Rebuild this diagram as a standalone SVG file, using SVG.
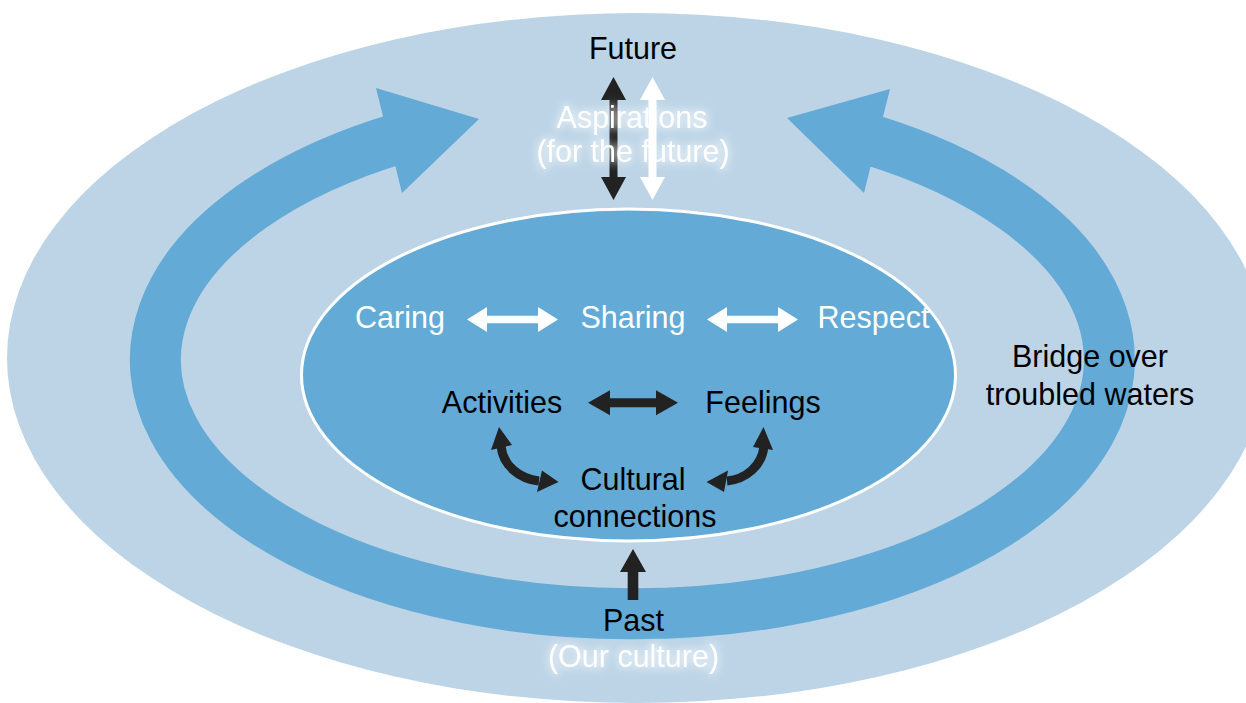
<svg xmlns="http://www.w3.org/2000/svg" width="1246" height="703" viewBox="0 0 1246 703">
<style>
.t{font-family:"Liberation Sans",Arial,sans-serif;font-size:30.5px;text-anchor:middle}
.k{fill:#000}
.w{fill:#fff}
.da{fill:#222}
.wa{fill:#fff}
.bh{fill:#63aad6}
</style>
<defs>
<filter id="glow" x="-20%" y="-50%" width="140%" height="200%">
<feMorphology in="SourceAlpha" operator="dilate" radius="2" result="d"/>
<feGaussianBlur in="d" stdDeviation="4" result="b"/>
<feFlood flood-color="#ffffff" flood-opacity="0.45"/>
<feComposite in2="b" operator="in" result="g"/>
<feMerge><feMergeNode in="g"/><feMergeNode in="SourceGraphic"/></feMerge>
</filter>
</defs>
<rect width="1246" height="703" fill="#fff"/>
<ellipse cx="637" cy="358" rx="630" ry="345" fill="#bcd4e6"/>
<g id="bridge-band">
<path d="M 400,138 A 477 254 0 1 0 868,139" fill="none" stroke="#63aad6" stroke-width="51"/>
<polygon class="bh" points="376,88 479,119 402,193"/>
<polygon class="bh" points="787,118 890,89 864,193"/>
</g>
<ellipse cx="628.5" cy="375" rx="327" ry="166" fill="#63aad6" stroke="#fff" stroke-width="3"/>
<g id="connectors">
<polygon class="da" points="613.5,77 626,100 617.5,100 617.5,177 626,177 613.5,200 601,177 609.5,177 609.5,100 601,100"/>
<polygon class="wa" points="652.5,77 665,100 656.5,100 656.5,177 665,177 652.5,200 640,177 648.5,177 648.5,100 640,100"/>
<polygon class="wa" points="467,319.5 487,307 487,315.7 538,315.7 538,307 558,319.5 538,332 538,323.3 487,323.3 487,332"/>
<polygon class="wa" points="707,319.5 727,307 727,315.7 778,315.7 778,307 798,319.5 778,332 778,323.3 727,323.3 727,332"/>
<polygon class="da" points="588,402.7 610,390.2 610,398.2 656,398.2 656,390.2 678,402.7 656,415.2 656,407.2 610,407.2 610,415.2"/>
<path d="M 501,446 C 503,466 520,479 539,481" fill="none" stroke="#222" stroke-width="9"/>
<polygon class="da" points="499,427 512,445 491,450"/>
<polygon class="da" points="558.5,482 537,492 542,470.5"/>
<path d="M 764,446 C 762,466 746,479 727,481" fill="none" stroke="#222" stroke-width="9"/>
<polygon class="da" points="763.5,427 773,450 753,447"/>
<polygon class="da" points="706.5,482 728,470.5 724,492"/>
<polygon class="da" points="633,549 646,572 638.3,572 638.3,600 627.7,600 627.7,572 620,572"/>
</g>
<g id="future"><text class="t k" x="633" y="59">Future</text></g>
<g id="aspirations" filter="url(#glow)"><text class="t w" x="632" y="128">Aspirations</text><text class="t w" x="633" y="162">(for the future)</text></g>
<g id="caring"><text class="t w" x="400" y="328">Caring</text></g>
<g id="sharing"><text class="t w" x="633" y="328">Sharing</text></g>
<g id="respect"><text class="t w" x="873.5" y="328">Respect</text></g>
<g id="activities"><text class="t k" x="502" y="413">Activities</text></g>
<g id="feelings"><text class="t k" x="763" y="413">Feelings</text></g>
<g id="cultural"><text class="t k" x="633" y="490">Cultural</text><text class="t k" x="635" y="527">connections</text></g>
<g id="past"><text class="t k" x="633.5" y="631">Past</text></g>
<g id="our-culture" filter="url(#glow)"><text class="t w" x="633.5" y="667">(Our culture)</text></g>
<g id="bridge"><text class="t k" x="1090" y="367">Bridge over</text><text class="t k" x="1090" y="405">troubled waters</text></g>
</svg>
